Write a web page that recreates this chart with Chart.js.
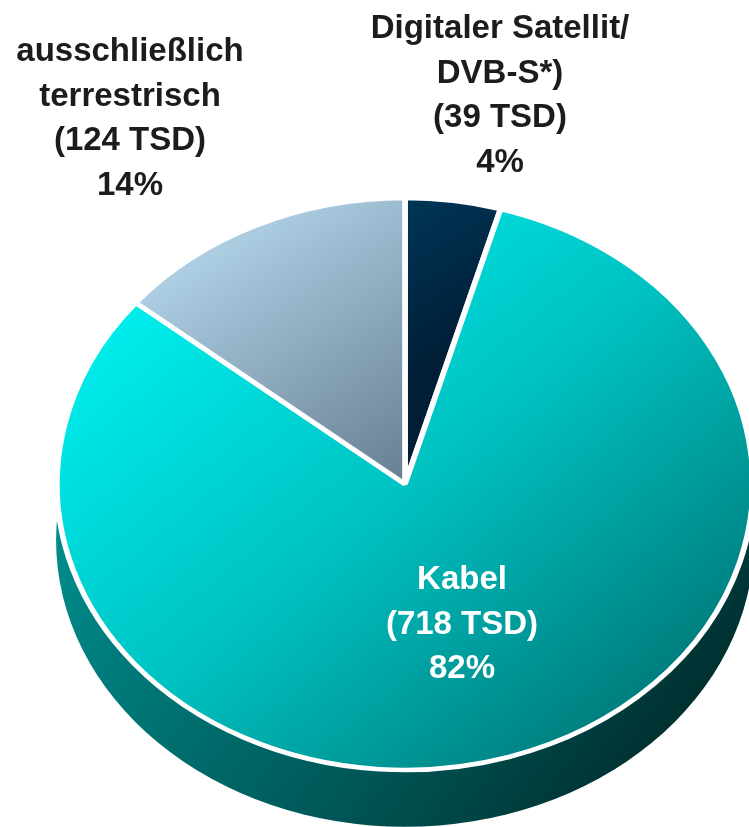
<!DOCTYPE html>
<html><head><meta charset="utf-8">
<script src="https://cdn.jsdelivr.net/npm/chart.js@4.4.1/dist/chart.umd.min.js"></script>
<style>html,body{margin:0;padding:0;background:#fff;overflow:hidden}canvas{display:block}</style>
</head><body>
<canvas id="c" width="749" height="827"></canvas>
<script>
// ---- data ----
const categories = [['Digitaler Satellit/', 'DVB-S*)'], ['Kabel'], ['ausschließlich', 'terrestrisch']];
const householdsTsd = [39, 718, 124];
const sharePercent = [4, 82, 14];

// ---- geometry of the drawn (tilted) pie ----
const G = { cx: 405, cy: 484, rx: 348, ry: 286, depth: 56 };

function pieBox(chart) {
  const a = chart.chartArea;
  if (!a) return null;
  return { x: (a.left + a.right) / 2, y: (a.top + a.bottom) / 2, R: Math.min(a.right - a.left, a.bottom - a.top) / 2 };
}

function sliceFill(c) {
  const chart = c.chart, b = pieBox(chart);
  const flat = ['#002b48', '#00c8c8', '#94b4c8'][c.dataIndex];
  if (!b) return flat;
  const ctx = chart.ctx, {x, y, R} = b;
  let g;
  if (c.dataIndex === 0) {
    g = ctx.createLinearGradient(x, y - R, x + 0.3 * R, y - 0.6 * R);
    g.addColorStop(0, '#003658'); g.addColorStop(1, '#001f37');
  } else if (c.dataIndex === 1) {
    g = ctx.createLinearGradient(x - R, y - R, x + R, y + R);
    g.addColorStop(0, '#00ffff'); g.addColorStop(0.5, '#00c2c2'); g.addColorStop(1, '#006262');
  } else {
    g = ctx.createLinearGradient(x - 0.8 * R, y - R, x, y);
    g.addColorStop(0, '#c3e6fb'); g.addColorStop(1, '#667e92');
  }
  return g;
}

const tilt = {
  id: 'tilt',
  beforeDatasetsDraw(chart) {
    const arc = chart.getDatasetMeta(0).data[0];
    if (!arc) return;
    const x = arc.x, y = arc.y, R = arc.outerRadius;
    const sx = G.rx / R, sy = G.ry / R;
    const ctx = chart.ctx;
    ctx.save();
    ctx.translate(G.cx, G.cy); ctx.scale(sx, sy); ctx.translate(-x, -y);
    const d = G.depth / sy;
    const g = ctx.createLinearGradient(x - R, y, x + R, y + R + d);
    g.addColorStop(0, '#009090'); g.addColorStop(0.55, '#005656'); g.addColorStop(1, '#001c1c');
    ctx.beginPath(); ctx.arc(x, y + d, R + 1, 0, Math.PI * 2); ctx.fillStyle = g; ctx.fill();
  },
  afterDatasetsDraw(chart) { chart.ctx.restore(); },
  afterDraw(chart) {
    const ctx = chart.ctx;
    const anchors = [
      { x: G.cx + 95, y: G.cy - 455, color: '#1c1c1c' },
      { x: G.cx + 57, y: G.cy + 96, color: '#ffffff' },
      { x: G.cx - 275, y: G.cy - 432, color: '#1c1c1c' }
    ];
    ctx.save();
    ctx.font = 'bold 33px "Liberation Sans", Arial, sans-serif';
    ctx.textAlign = 'center'; ctx.textBaseline = 'middle';
    categories.forEach((name, i) => {
      const lines = [...name, '(' + householdsTsd[i] + ' TSD)', sharePercent[i] + '%'];
      ctx.fillStyle = anchors[i].color;
      lines.forEach((t, k) => ctx.fillText(t, anchors[i].x, anchors[i].y + k * 44.5));
    });
    ctx.restore();
  }
};

new Chart(document.getElementById('c'), {
  type: 'pie',
  data: {
    labels: categories.map(c => c.join(' ')),
    datasets: [{
      data: householdsTsd,
      backgroundColor: sliceFill,
      borderColor: '#ffffff',
      borderWidth: 6,
      clip: false
    }]
  },
  options: {
    responsive: false,
    devicePixelRatio: 1,
    animation: false,
    events: [],
    layout: { padding: 0 },
    plugins: { legend: { display: false }, tooltip: { enabled: false } }
  },
  plugins: [tilt]
});
</script>
</body></html>
